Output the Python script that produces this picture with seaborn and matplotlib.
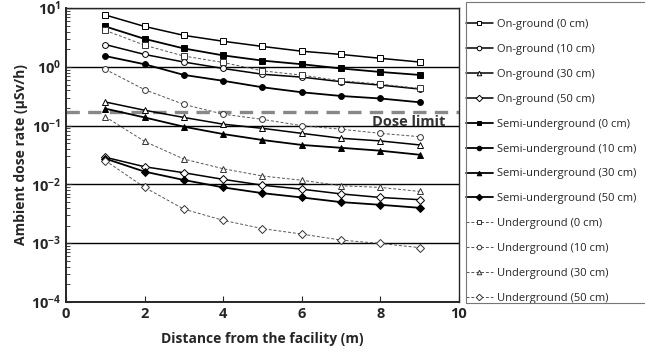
import numpy as np
import pandas as pd
import matplotlib
matplotlib.use("Agg")
import matplotlib.pyplot as plt
from matplotlib.patches import Rectangle
from matplotlib.ticker import LogLocator, FuncFormatter, NullFormatter
import seaborn as sns

# distance from the facility (m)
distance = [1, 2, 3, 4, 5, 6, 7, 8, 9]

# ambient dose rate (uSv/h)
on_0 = [7.65, 4.88, 3.44, 2.73, 2.23, 1.85, 1.63, 1.40, 1.21]
on_10 = [2.40, 1.63, 1.21, 0.94, 0.75, 0.67, 0.56, 0.49, 0.42]
on_30 = [0.253, 0.183, 0.138, 0.106, 0.090, 0.074, 0.061, 0.055, 0.047]
on_50 = [0.029, 0.020, 0.0158, 0.0122, 0.0097, 0.0083, 0.0069, 0.0060, 0.0055]
semi_0 = [4.88, 3.00, 2.06, 1.57, 1.28, 1.11, 0.94, 0.82, 0.73]
semi_10 = [1.53, 1.11, 0.73, 0.58, 0.45, 0.37, 0.32, 0.29, 0.25]
semi_30 = [0.195, 0.138, 0.096, 0.072, 0.057, 0.047, 0.042, 0.0375, 0.032]
semi_50 = [0.0275, 0.0165, 0.0119, 0.0089, 0.0071, 0.0060, 0.0050, 0.0045, 0.0040]
under_0 = [4.18, 2.34, 1.53, 1.19, 0.857, 0.725, 0.58, 0.51, 0.43]
under_10 = [0.91, 0.41, 0.23, 0.157, 0.128, 0.100, 0.087, 0.074, 0.065]
under_30 = [0.142, 0.054, 0.027, 0.0185, 0.0139, 0.0118, 0.0095, 0.0089, 0.0076]
under_50 = [0.0255, 0.0089, 0.0038, 0.00245, 0.00177, 0.00143, 0.00113, 0.00099, 0.00084]

dose_limit = 0.17

labels = ["On-ground (0 cm)", "On-ground (10 cm)", "On-ground (30 cm)", "On-ground (50 cm)",
          "Semi-underground (0 cm)", "Semi-underground (10 cm)",
          "Semi-underground (30 cm)", "Semi-underground (50 cm)",
          "Underground (0 cm)", "Underground (10 cm)", "Underground (30 cm)", "Underground (50 cm)"]
values = [on_0, on_10, on_30, on_50, semi_0, semi_10, semi_30, semi_50,
          under_0, under_10, under_30, under_50]

markers = ["s", "o", "^", "D"] * 3
groups = ["on"] * 4 + ["semi"] * 4 + ["under"] * 4

sns.set_style("ticks")
plt.rcParams["font.family"] = ["Open Sans", "DejaVu Sans"]
plt.rcParams["mathtext.fontset"] = "custom"
plt.rcParams["mathtext.rm"] = "Open Sans"
plt.rcParams["mathtext.bf"] = "Open Sans:bold"

fig = plt.figure(figsize=(6.45, 3.54), dpi=100)
ax = fig.add_axes([0.1023, 0.147, 0.6093, 0.830])

for lab, vals, mk, grp in zip(labels, values, markers, groups):
    df = pd.DataFrame({"x": distance, "y": vals})
    ms = 4.2 if mk != "D" else 3.8
    if grp == "on":
        sns.lineplot(data=df, x="x", y="y", ax=ax, color="black", lw=1.1,
                     marker=mk, ms=ms, mfc="white", mec="black", mew=0.7, label=lab)
    elif grp == "semi":
        sns.lineplot(data=df, x="x", y="y", ax=ax, color="black", lw=1.3,
                     marker=mk, ms=ms, mfc="black", mec="black", mew=0.7, label=lab)
    else:
        sns.lineplot(data=df, x="x", y="y", ax=ax, color="#555555", lw=0.7,
                     linestyle=(0, (3, 2)), marker=mk, ms=ms, mfc="white",
                     mec="#333333", mew=0.7, label=lab)

ax.axhline(dose_limit, color="#888888", lw=2.4, linestyle=(0, (4, 2.5)), zorder=1)
ax.text(0.965, 0.614, "Dose limit", transform=ax.transAxes, ha="right", va="center",
        fontsize=10.5, fontweight="bold", color="#333333")

ax.set_yscale("log")
ax.set_xlim(0, 10)
ax.set_ylim(1e-4, 1e1)
ax.set_xticks([0, 2, 4, 6, 8, 10])
ax.yaxis.set_major_locator(LogLocator(base=10, numticks=10))
ax.yaxis.set_minor_locator(LogLocator(base=10, subs=np.arange(2, 10), numticks=20))
ax.yaxis.set_minor_formatter(NullFormatter())
ax.yaxis.set_major_formatter(FuncFormatter(lambda v, p: r"$\mathbf{10^{%d}}$" % round(np.log10(v))))
ax.yaxis.grid(True, which="major", color="black", lw=1.0)
ax.tick_params(axis="both", which="both", direction="in", labelsize=10.5)
ax.tick_params(axis="y", which="minor", length=3, width=0.6)
ax.tick_params(axis="both", which="major", length=4, width=0.8)
for lbl in ax.get_xticklabels():
    lbl.set_fontweight("bold")

for side in ["left", "bottom"]:
    ax.spines[side].set_linewidth(1.4)
for side in ["top", "right"]:
    ax.spines[side].set_visible(True)
    ax.spines[side].set_linewidth(1.0)

ax.set_xlabel("Distance from the facility (m)", fontsize=10, fontweight="bold", labelpad=8)
ax.set_ylabel("Ambient dose rate (μSv/h)", fontsize=10, fontweight="bold", labelpad=2)

# legend without its own frame; frame drawn as a box that runs off the right edge
leg = ax.legend(loc="upper left", bbox_to_anchor=(0.7225, 0.946), bbox_transform=fig.transFigure,
                fontsize=8, frameon=False, labelspacing=1.25,
                handlelength=2.4, handletextpad=0.4, borderpad=0, borderaxespad=0)
for h in leg.legend_handles:
    h.set_markersize(3.3)
fig.patches.append(Rectangle((466 / 645, 1 - 303 / 354), 0.4, 301 / 354,
                             transform=fig.transFigure, fill=False,
                             edgecolor="#777777", lw=0.8))

fig.savefig("out.png", dpi=100)
